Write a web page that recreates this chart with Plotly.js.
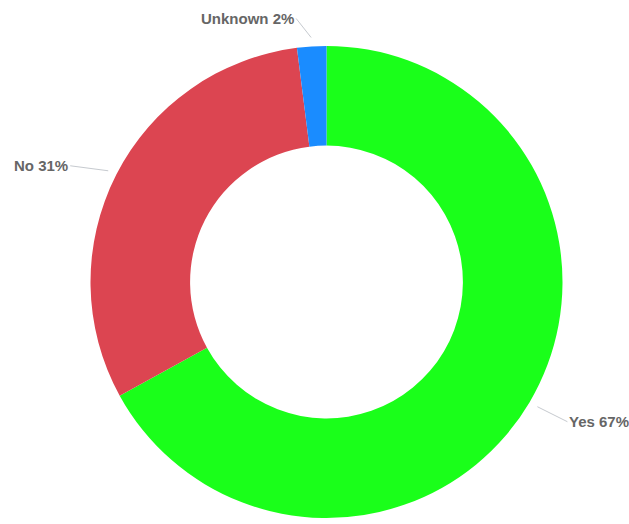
<!DOCTYPE html>
<html>
<head>
<meta charset="utf-8">
<script src="https://cdn.plot.ly/plotly-3.0.1.min.js"></script>
<style>html,body{margin:0;padding:0;background:#fff}#chart{width:629px;height:524px}</style>
</head>
<body>
<div id="chart"></div>
<script>
const labels = ['Yes', 'No', 'Unknown'];
const values = [67, 31, 2];
const colors = ['#1AFF1A', '#DC4551', '#1A8CFF'];
// label text offsets (px) relative to the leader-line tip
const labelOffsets = [[30, 15, 'left'], [-38, -5, 'right'], [-15, -19, 'right']];

const W = 629, H = 524;
const cxPx = 326.5, cyPx = 282, R = 236;
const domX = [(cxPx - R) / W, (cxPx + R) / W];
const domY = [(H - cyPx - R) / H, (H - cyPx + R) / H];

const total = values.reduce((a, b) => a + b, 0);
let cum = 0;
const annotations = labels.map((lab, i) => {
  const frac = values[i] / total;
  const mid = (cum + frac / 2) * 2 * Math.PI;
  cum += frac;
  const r = R + 9;
  const px = cxPx + r * Math.sin(mid);
  const py = cyPx - r * Math.cos(mid);
  const pct = Math.round(frac * 100);
  return {
    x: px / W, y: 1 - py / H, xref: 'paper', yref: 'paper',
    text: lab + ' ' + pct + '%',
    showarrow: true, arrowhead: 0, arrowwidth: 1, arrowcolor: '#c6cacf',
    ax: labelOffsets[i][0], ay: labelOffsets[i][1],
    xanchor: labelOffsets[i][2], yanchor: 'middle',
    font: {family: 'Liberation Sans, Arial, sans-serif', size: 15, color: '#666', weight: 'bold'}
  };
});

const data = [{
  type: 'pie',
  labels: labels,
  values: values,
  sort: false,
  direction: 'clockwise',
  rotation: 0,
  hole: 0.578,
  marker: {colors: colors, line: {width: 0}},
  textinfo: 'none',
  hoverinfo: 'none',
  domain: {x: domX, y: domY}
}];

const layout = {
  width: W, height: H,
  margin: {l: 0, r: 0, t: 0, b: 0},
  paper_bgcolor: '#fff',
  showlegend: false,
  annotations: annotations
};

Plotly.newPlot('chart', data, layout, {displayModeBar: false, staticPlot: true});
</script>
</body>
</html>
